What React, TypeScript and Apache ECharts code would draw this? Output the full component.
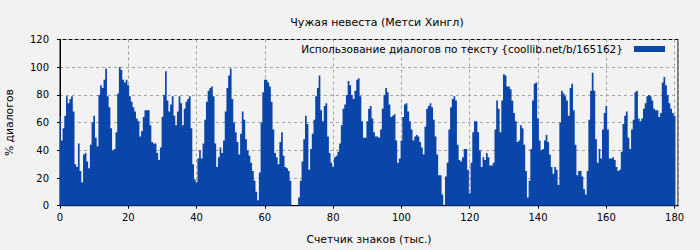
import React, { useEffect, useRef } from "react";
import * as echarts from "echarts";

const TITLE = "Чужая невеста (Метси Хингл)";
const SERIES_NAME = "Использование диалогов по тексту {coollib.net/b/165162}";
const X_NAME = "Счетчик знаков (тыс.)";
const Y_NAME = "% диалогов";

// sample spacing along the x axis, thousand characters
const STEP_K = 0.5;
const X_MIN = 0;
const X_MAX = 181;
const X_INTERVAL = 20;
const Y_MIN = 0;
const Y_MAX = 120;
const Y_INTERVAL = 20;

// % of dialogue, one value every 0.5k characters, starting at 0
const dialogPct: number[] = [
  // 0 – 36
  65, 47, 56, 65, 79, 74, 77, 79, 68, 30,
  28, 45, 25, 17, 37, 38, 32, 27, 44, 60,
  65, 49, 43, 80, 87, 85, 91, 99, 79, 71,
  56, 40, 41, 53, 81, 100, 98, 91, 89, 91,
  87, 79, 75, 71, 68, 63, 61, 50, 54, 64,
  69, 69, 69, 58, 46, 45, 45, 38, 33, 42,
  64, 80, 97, 76, 68, 73, 79, 65, 58, 68,
  79, 74, 58,
  // 36.5 – 72.5
  70, 75, 77, 79, 56, 30, 19, 17, 34, 40,
  34, 45, 62, 75, 83, 85, 86, 79, 45, 28,
  35, 42, 38, 47, 68, 85, 94, 99, 77, 60,
  53, 46, 37, 52, 68, 62, 48, 40, 36, 31,
  25, 18, 10, 4, 24, 60, 82, 91, 91, 89,
  86, 75, 55, 38, 35, 30, 46, 53, 36, 28,
  27, 25, 18, 0, 0, 0, 0, 6, 18, 32,
  48, 65, 59,
  // 73 – 109.5
  26, 41, 52, 62, 79, 85, 94, 69, 61, 72,
  74, 50, 38, 31, 28, 35, 36, 39, 45, 58,
  70, 73, 80, 90, 87, 80, 77, 83, 91, 92,
  79, 61, 49, 49, 61, 70, 72, 63, 53, 50,
  50, 49, 55, 70, 80, 85, 82, 73, 64, 65,
  66, 47, 31, 34, 47, 64, 73, 74, 68, 61,
  55, 47, 50, 51, 50, 46, 42, 37, 57, 70,
  72, 74, 71, 62,
  // 110 – 146
  50, 37, 22, 22, 8, 0, 21, 31, 55, 71,
  77, 79, 76, 44, 33, 32, 35, 41, 41, 26,
  9, 31, 53, 61, 61, 53, 40, 28, 35, 33,
  38, 35, 29, 29, 31, 55, 76, 70, 53, 76,
  95, 94, 86, 86, 84, 76, 67, 61, 46, 47,
  58, 56, 44, 25, 6, 18, 41, 76, 88, 89,
  63, 47, 40, 41, 47, 51, 46, 37, 28, 23,
  28, 26, 15,
  // 146.5 – 180
  60, 83, 81, 79, 76, 65, 85, 88, 69, 44,
  22, 25, 25, 21, 12, 8, 25, 62, 83, 96,
  83, 48, 31, 41, 34, 55, 67, 72, 55, 34,
  34, 35, 33, 28, 25, 26, 39, 59, 65, 68,
  49, 41, 55, 62, 82, 83, 63, 61, 63, 70,
  74, 79, 80, 79, 76, 70, 69, 69, 64, 67,
  89, 93, 87, 80, 74, 70, 67, 65,
];

const FONT = "DejaVu Sans";
const BAR_COLOR = "#0a45a9";

export default function App() {
  const ref = useRef<HTMLDivElement>(null);

  useEffect(() => {
    if (!ref.current) return;
    const chart = echarts.init(ref.current, undefined, { renderer: "svg" });
    const seriesData = dialogPct.map((v, i) => [i * STEP_K, v]);
    const half = STEP_K / 2;
    const gridLine = { show: true, lineStyle: { color: "#a3a3a3", width: 1, type: [3, 3] as any } };

    // one filled step outline built from all samples (boxes with no gaps)
    const renderItem = (params: any, api: any) => {
      if (params.dataIndex !== 0) return null;
      const pts: number[][] = [];
      const first = Math.max(X_MIN, seriesData[0][0] - half);
      pts.push(api.coord([first, 0]));
      seriesData.forEach(([x, v], i) => {
        const left = i === 0 ? first : x - half;
        pts.push(api.coord([left, v]));
        pts.push(api.coord([x + half, v]));
      });
      const last = seriesData[seriesData.length - 1][0] + half;
      pts.push(api.coord([last, 0]));
      return {
        type: "polygon",
        shape: { points: pts },
        style: { fill: BAR_COLOR, stroke: null },
      };
    };

    chart.setOption({
      animation: false,
      backgroundColor: "#f2f2f2",
      textStyle: { fontFamily: FONT },
      title: {
        text: TITLE,
        left: 372,
        top: 12,
        textAlign: "center",
        textStyle: { fontSize: 11, fontWeight: "normal", color: "#000", fontFamily: FONT },
      },
      legend: {
        data: [SERIES_NAME],
        right: 30,
        top: 38.5,
        align: "right",
        icon: "rect",
        itemWidth: 31,
        itemHeight: 6,
        itemStyle: { color: BAR_COLOR },
        textStyle: { fontSize: 10.5, color: "#000", fontFamily: FONT, padding: [0, 6, 0, 0] },
      },
      grid: {
        left: 60,
        right: 22,
        top: 39.5,
        bottom: 44.3,
        containLabel: false,
        outerBoundsMode: "none",
        show: true,
        borderColor: "#000",
        borderWidth: 1,
        backgroundColor: "transparent",
      },
      xAxis: {
        type: "value",
        min: X_MIN,
        max: X_MAX,
        interval: X_INTERVAL,
        name: X_NAME,
        nameLocation: "middle",
        nameGap: 28,
        nameTextStyle: { fontSize: 10.8, color: "#000", fontFamily: FONT },
        axisLine: { show: true, lineStyle: { color: "#000", width: 1 } },
        axisTick: { show: true, length: 3, lineStyle: { color: "#000" } },
        axisLabel: {
          fontSize: 10,
          color: "#000",
          fontFamily: FONT,
          margin: 7,
          showMaxLabel: false,
          formatter: (v: number) => (v % X_INTERVAL === 0 ? String(v) : ""),
        },
        splitLine: gridLine,
      },
      yAxis: {
        type: "value",
        min: Y_MIN,
        max: Y_MAX,
        interval: Y_INTERVAL,
        name: Y_NAME,
        nameLocation: "middle",
        nameGap: 45,
        nameTextStyle: { fontSize: 10.8, color: "#000", fontFamily: FONT },
        axisLine: { show: true, lineStyle: { color: "#000", width: 1 } },
        axisTick: { show: true, length: 3, lineStyle: { color: "#000" } },
        axisLabel: { fontSize: 10, color: "#000", fontFamily: FONT, margin: 11 },
        splitLine: gridLine,
      },
      series: [
        {
          name: SERIES_NAME,
          type: "custom",
          data: seriesData,
          renderItem,
          color: BAR_COLOR,
          itemStyle: { color: BAR_COLOR },
          clip: true,
          encode: { x: 0, y: 1 },
          z: 2,
        },
      ],
    });
    return () => chart.dispose();
  }, []);

  return (
    <div
      ref={ref}
      style={{ position: "fixed", left: 0, top: 0, width: 700, height: 250 }}
    />
  );
}
